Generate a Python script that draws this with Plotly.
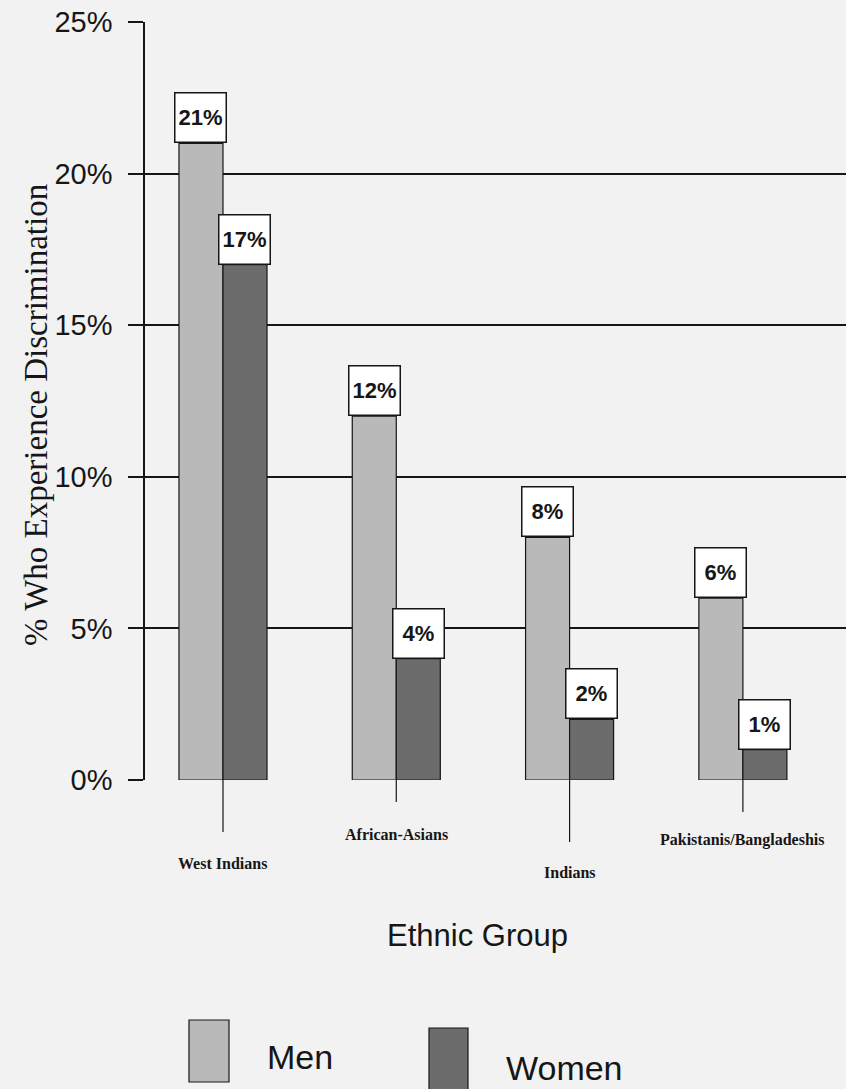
import plotly.graph_objects as go

# Survey results: share reporting housing discrimination, by ethnic group and sex
groups = ["West Indians", "African-Asians", "Indians", "Pakistanis/Bangladeshis"]
men = [21, 12, 8, 6]
women = [17, 4, 2, 1]
y_ticks = [0, 5, 10, 15, 20, 25]
y_tick_labels = ["0%", "5%", "10%", "15%", "20%", "25%"]

MEN_COLOR = "#b9b9b9"
WOMEN_COLOR = "#6c6c6c"
INK = "#161616"
BG = "#f2f2f2"

W, H = 846, 1089
ML, MR, MT, MB = 145, 0, 22, 309
PW, PH = W - ML - MR, H - MT - MB

def px_x(p):
    return (p - ML) / PW

def px_y(p):
    return (H - MB - p) / PH

BAR_W = 0.254
xs = list(range(len(groups)))

fig = go.Figure()
fig.add_trace(go.Bar(
    x=xs, y=men, name="Men", width=BAR_W, offset=-BAR_W,
    marker=dict(color=MEN_COLOR, line=dict(color=INK, width=1.2)),
))
fig.add_trace(go.Bar(
    x=xs, y=women, name="Women", width=BAR_W, offset=0,
    marker=dict(color=WOMEN_COLOR, line=dict(color=INK, width=1.2)),
))

annotations = []
label_font = dict(family="Liberation Sans, Arial", size=22, color=INK)
for i, (m, w) in enumerate(zip(men, women)):
    for val, dx in ((m, -BAR_W / 2), (w, BAR_W / 2)):
        annotations.append(dict(
            x=i + dx, y=val, xref="x", yref="y", text=f"<b>{val}%</b>",
            showarrow=False, yanchor="bottom", xanchor="center",
            width=48, height=46, bgcolor="white", bordercolor=INK,
            borderwidth=1.5, font=label_font,
        ))

# staggered category labels with leader ticks
label_px_y = [863, 834, 872, 840]
tick_px_end = [832, 802, 842, 812]
shapes = []
for i, g in enumerate(groups):
    annotations.append(dict(
        x=i, y=px_y(label_px_y[i]), xref="x", yref="paper", text=f"<b>{g}</b>",
        showarrow=False, xanchor="center", yanchor="middle",
        font=dict(family="Liberation Serif, Times New Roman, serif", size=16, color=INK),
    ))
    shapes.append(dict(
        type="line", xref="x", yref="paper", x0=i, x1=i, y0=0, y1=px_y(tick_px_end[i]),
        line=dict(color=INK, width=1.2),
    ))

# axis titles
annotations.append(dict(
    x=px_x(36), y=px_y(415), xref="paper", yref="paper",
    xanchor="center", yanchor="middle",
    text="% Who Experience Discrimination", textangle=-90, showarrow=False,
    font=dict(family="Liberation Serif, Times New Roman, serif", size=33, color=INK),
))
annotations.append(dict(
    x=px_x(477), y=px_y(935), xref="paper", yref="paper", text="Ethnic Group",
    xanchor="center", yanchor="middle", showarrow=False,
    font=dict(family="Liberation Sans, Arial", size=31, color=INK),
))

# legend swatches and labels
legend_items = [
    ("Men", MEN_COLOR, (189, 229, 1020, 1082), 265, 1057),
    ("Women", WOMEN_COLOR, (429, 468, 1028, 1095), 504, 1068),
]
for name, color, (x0, x1, y0, y1), tx, ty in legend_items:
    shapes.append(dict(
        type="rect", xref="paper", yref="paper",
        x0=px_x(x0), x1=px_x(x1), y0=px_y(y1), y1=px_y(y0),
        fillcolor=color, line=dict(color=INK, width=1.2),
    ))
    annotations.append(dict(
        x=px_x(tx), y=px_y(ty), xref="paper", yref="paper", text=name,
        showarrow=False, xanchor="left", yanchor="middle",
        font=dict(family="Liberation Sans, Arial", size=34, color=INK),
    ))

fig.update_layout(
    width=W, height=H, margin=dict(l=ML, r=MR, t=MT, b=MB),
    paper_bgcolor=BG, plot_bgcolor=BG, showlegend=False,
    barmode="overlay", annotations=annotations, shapes=shapes,
    xaxis=dict(range=[-0.45, -0.45 + PW / 173.3], showticklabels=False, ticks="",
               showgrid=False, zeroline=False, showline=False, fixedrange=True),
    yaxis=dict(range=[0, 25], tickvals=y_ticks, ticktext=y_tick_labels,
               ticks="outside", ticklen=15, tickwidth=1.5, tickcolor=INK,
               showgrid=True, gridcolor=INK, gridwidth=1.5,
               showline=True, linecolor=INK, linewidth=1.5,
               zeroline=False, ticklabelstandoff=10,
               tickfont=dict(family="Liberation Sans, Arial", size=29, color=INK)),
)

fig.write_html("out.html")
